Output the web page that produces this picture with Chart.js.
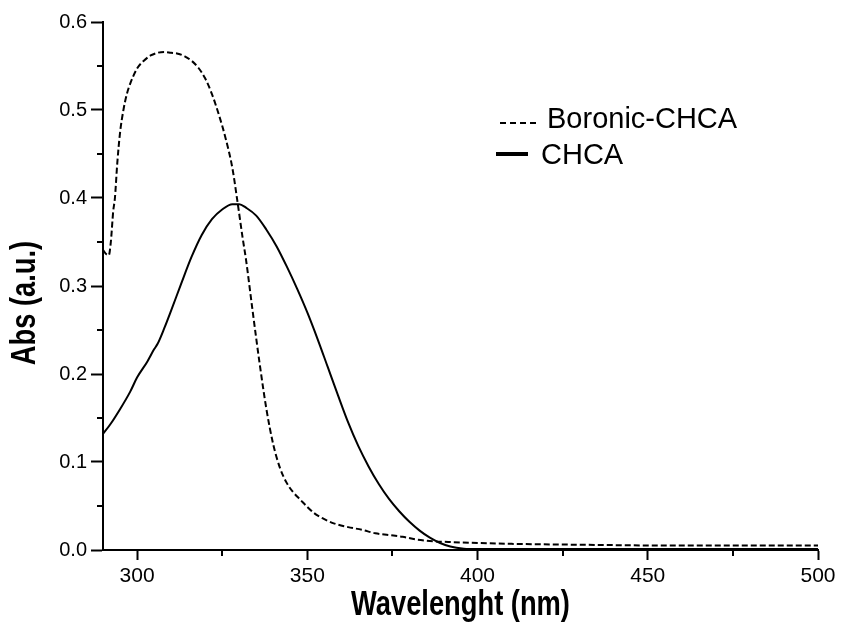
<!DOCTYPE html>
<html>
<head>
<meta charset="utf-8">
<script src="https://cdn.jsdelivr.net/npm/chart.js@4"></script>
<style>
  body { margin: 0; background: #fff; }
  #wrap { width: 841px; height: 633px; }
</style>
</head>
<body>
<div id="wrap"><canvas id="chart" width="841" height="633"></canvas></div>
<script>
// data
const boronicLabel = 'Boronic-CHCA';
const boronicWl = [290, 291, 291.7, 292.3, 293, 293.5, 294.2, 295, 296, 297, 298, 300, 302, 304, 306, 308, 310, 312, 314, 316, 318, 320, 322, 324, 326, 328, 329.6, 331, 332, 334, 336, 338, 340, 342, 344, 346, 348, 350, 352, 355, 358, 362, 366, 370, 374, 378, 382, 387, 392, 400, 410, 430, 460, 500];
const boronicAbs = [0.341, 0.336, 0.335, 0.35, 0.385, 0.40, 0.44, 0.474, 0.50, 0.518, 0.53, 0.547, 0.556, 0.562, 0.565, 0.566, 0.565, 0.564, 0.561, 0.556, 0.548, 0.536, 0.518, 0.495, 0.468, 0.434, 0.393, 0.355, 0.33, 0.27, 0.212, 0.16, 0.12, 0.093, 0.076, 0.065, 0.057, 0.049, 0.042, 0.035, 0.030, 0.026, 0.023, 0.019, 0.017, 0.015, 0.012, 0.010, 0.009, 0.008, 0.007, 0.006, 0.005, 0.005];

const chcaLabel = 'CHCA';
const chcaWl = [290, 292, 295, 298, 300, 303, 305, 306, 308, 310, 313, 316, 319, 322, 325, 328, 330, 332, 335, 338, 341, 344, 347, 350, 353, 356, 359, 362, 365, 368, 371, 374, 377, 380, 383, 386, 389, 392, 396, 400, 420, 450, 480, 500];
const chcaAbs = [0.132, 0.142, 0.16, 0.18, 0.196, 0.214, 0.228, 0.234, 0.252, 0.272, 0.303, 0.333, 0.358, 0.376, 0.387, 0.393, 0.393, 0.389, 0.380, 0.364, 0.345, 0.322, 0.297, 0.27, 0.24, 0.208, 0.176, 0.145, 0.118, 0.095, 0.075, 0.058, 0.044, 0.032, 0.022, 0.014, 0.008, 0.004, 0.0015, 0.001, 0.001, 0.001, 0.001, 0.001];

const xTicks = [300, 350, 400, 450, 500];
const xMinor = [325, 375, 425, 475];
const yTicks = [0, 0.1, 0.2, 0.3, 0.4, 0.5, 0.6];
const yMinor = [0.05, 0.15, 0.25, 0.35, 0.45, 0.55];
const xTitle = 'Wavelenght (nm)';
const yTitle = 'Abs (a.u.)';

const toPoints = (xs, ys) => xs.map((x, i) => ({ x, y: ys[i] }));

// axis titles in the reference are a condensed bold face: squeeze the text
function condensedText(ctx, text, x, y, rot) {
  ctx.save();
  ctx.translate(x, y);
  if (rot) ctx.rotate(rot);
  ctx.scale(0.78, 1);
  ctx.fillText(text, 0, 0);
  ctx.restore();
}

const decor = {
  id: 'decor',
  afterDraw(chart) {
    const { ctx, chartArea: a, scales: { x, y } } = chart;
    ctx.save();
    ctx.strokeStyle = '#000';
    ctx.lineWidth = 2;
    // minor ticks
    xMinor.forEach(v => {
      const px = Math.round(x.getPixelForValue(v));
      ctx.beginPath(); ctx.moveTo(px, a.bottom); ctx.lineTo(px, a.bottom + 6); ctx.stroke();
    });
    yMinor.forEach(v => {
      const py = Math.round(y.getPixelForValue(v));
      ctx.beginPath(); ctx.moveTo(a.left, py); ctx.lineTo(a.left - 6, py); ctx.stroke();
    });
    // axis titles
    ctx.fillStyle = '#000';
    ctx.font = 'bold 35px "Liberation Sans"';
    ctx.textAlign = 'center';
    ctx.textBaseline = 'middle';
    condensedText(ctx, xTitle, (a.left + a.right) / 2, a.bottom + 55, 0);
    condensedText(ctx, yTitle, 25, (a.top + a.bottom) / 2 + 17, -Math.PI / 2);
    // legend inside the plot
    const ds = chart.data.datasets;
    const lx = a.left + 397;
    ctx.font = '29px "Liberation Sans"';
    ctx.textAlign = 'left';
    ctx.lineWidth = 2;
    ctx.setLineDash([6, 4]);
    ctx.beginPath(); ctx.moveTo(lx, a.top + 101); ctx.lineTo(lx + 38, a.top + 101); ctx.stroke();
    ctx.setLineDash([]);
    ctx.fillText(ds[0].label, lx + 47, a.top + 98);
    ctx.lineWidth = 4;
    ctx.beginPath(); ctx.moveTo(lx - 4, a.top + 132); ctx.lineTo(lx + 28, a.top + 132); ctx.stroke();
    ctx.fillText(ds[1].label, lx + 41, a.top + 134);
    ctx.restore();
  }
};

new Chart(document.getElementById('chart'), {
  type: 'line',
  data: {
    datasets: [
      {
        label: boronicLabel,
        data: toPoints(boronicWl, boronicAbs),
        borderColor: '#000',
        borderWidth: 2,
        borderDash: [6, 3],
        pointRadius: 0,
        cubicInterpolationMode: 'monotone',
        fill: false
      },
      {
        label: chcaLabel,
        data: toPoints(chcaWl, chcaAbs),
        borderColor: '#000',
        borderWidth: 2,
        pointRadius: 0,
        cubicInterpolationMode: 'monotone',
        fill: false
      }
    ]
  },
  options: {
    responsive: false,
    animation: false,
    layout: { padding: { top: 22, right: 23, left: 0, bottom: 0 } },
    plugins: { legend: { display: false }, tooltip: { enabled: false } },
    scales: {
      x: {
        type: 'linear',
        min: 290,
        max: 500,
        afterBuildTicks: s => { s.ticks = xTicks.map(v => ({ value: v })); },
        afterFit: s => { s.height = 83; },
        border: { display: true, color: '#000', width: 2 },
        grid: { drawOnChartArea: false, drawTicks: true, tickLength: 10, tickColor: '#000', tickWidth: 2 },
        ticks: { color: '#000', font: { family: '"Liberation Sans"', size: 21 }, padding: 4, maxRotation: 0 }
      },
      y: {
        type: 'linear',
        min: 0,
        max: 0.6,
        afterBuildTicks: s => { s.ticks = yTicks.map(v => ({ value: v })); },
        afterFit: s => { s.width = 103; },
        border: { display: true, color: '#000', width: 2 },
        grid: { drawOnChartArea: false, drawTicks: true, tickLength: 12, tickColor: '#000', tickWidth: 2 },
        ticks: { color: '#000', font: { family: '"Liberation Sans"', size: 20 }, padding: 4, callback: v => v.toFixed(1) }
      }
    }
  },
  plugins: [decor]
});
</script>
</body>
</html>
